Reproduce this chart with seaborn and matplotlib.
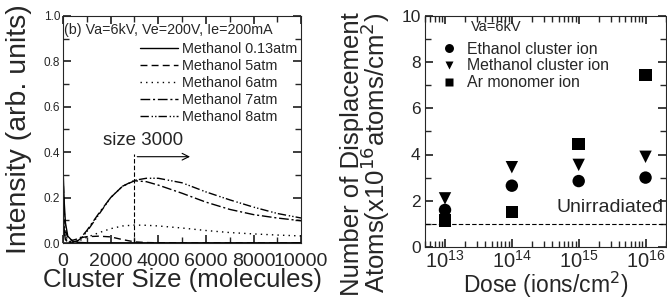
import matplotlib
matplotlib.use("Agg")
import pandas as pd
import matplotlib.pyplot as plt
from matplotlib.ticker import MultipleLocator, LogLocator, NullFormatter
import seaborn as sns

# left panel: cluster size distributions
cluster_size = [0, 50, 100, 200, 400, 600, 800, 1000, 1500, 2000, 2500, 3000,
                3500, 4000, 5000, 6000, 7000, 8000, 9000, 10000]
meth_013 = [0.33, 0.18, 0.09, 0.03, 0.008, 0.003, 0.002, 0.001, 0.001, 0.001, 0.001,
            0.001, 0.001, 0.001, 0.001, 0.001, 0.001, 0.001, 0.001, 0.001]
meth_5 = [0.30, 0.14, 0.06, 0.02, 0.012, 0.018, 0.024, 0.028, 0.030, 0.027, 0.015,
          0.005, 0.002, 0.001, 0.0, 0.0, 0.0, 0.0, 0.0, 0.0]
meth_6 = [0.22, 0.10, 0.04, 0.01, 0.004, 0.008, 0.015, 0.025, 0.045, 0.063, 0.075,
          0.079, 0.078, 0.075, 0.066, 0.055, 0.046, 0.040, 0.035, 0.031]
meth_7 = [0.15, 0.06, 0.02, 0.005, 0.003, 0.010, 0.030, 0.055, 0.13, 0.20, 0.25,
          0.274, 0.27, 0.255, 0.219, 0.18, 0.148, 0.125, 0.11, 0.098]
meth_8 = [0.12, 0.05, 0.015, 0.004, 0.003, 0.008, 0.025, 0.05, 0.125, 0.20, 0.25,
          0.276, 0.285, 0.285, 0.265, 0.225, 0.19, 0.158, 0.13, 0.11]
gas_labels = ['Methanol 0.13atm', 'Methanol 5atm', 'Methanol 6atm',
              'Methanol 7atm', 'Methanol 8atm']

# right panel: displacement atoms vs dose
dose = [1e13, 1e14, 1e15, 1e16]
ethanol = [1.6, 2.65, 2.85, 3.0]
methanol = [2.1, 3.45, 3.55, 3.9]
ar_monomer = [1.15, 1.5, 4.45, 7.45]
ion_labels = ['Ethanol cluster ion', 'Methanol cluster ion', 'Ar monomer ion']
unirradiated = 1.0

sns.set_theme(style='ticks')
plt.rcParams['font.family'] = ['Liberation Sans', 'DejaVu Sans']
plt.rcParams['xtick.direction'] = 'in'
plt.rcParams['ytick.direction'] = 'in'
plt.rcParams['xtick.top'] = True
plt.rcParams['ytick.right'] = True
plt.rcParams['axes.linewidth'] = 0.8

fig = plt.figure(figsize=(6.67, 3.0), dpi=100)
ax1 = fig.add_axes([0.0945, 0.19, 0.357, 0.757])
ax2 = fig.add_axes([0.637, 0.177, 0.361, 0.77])

# ---- left panel
curves = pd.DataFrame({
    'size': cluster_size * 5,
    'intensity': meth_013 + meth_5 + meth_6 + meth_7 + meth_8,
    'gas': sum([[g] * len(cluster_size) for g in gas_labels], []),
})
sns.lineplot(data=curves, x='size', y='intensity', style='gas', style_order=gas_labels,
             dashes=['', (5, 3), (1, 3), (7, 2, 1.5, 2), (6, 2, 1, 1.5, 1, 1.5)],
             color='black', lw=1, ax=ax1)
ax1.set_xlim(0, 10000)
ax1.set_ylim(0, 1.0)
ax1.xaxis.set_major_locator(MultipleLocator(2000))
ax1.xaxis.set_minor_locator(MultipleLocator(1000))
ax1.yaxis.set_major_locator(MultipleLocator(0.2))
ax1.yaxis.set_minor_locator(MultipleLocator(0.1))
ax1.yaxis.set_major_formatter(plt.FormatStrFormatter('%.1f'))
ax1.tick_params(axis='x', which='both', labelsize=14, pad=7, top=True)
ax1.tick_params(axis='y', which='both', labelsize=8.5, pad=2, right=True)
ax1.set_xlabel('Cluster Size (molecules)', fontsize=18.5, labelpad=-1)
ax1.set_ylabel('Intensity (arb. units)', fontsize=20.5)
ax1.yaxis.set_label_coords(-0.13, 0.5)

handles, labels = ax1.get_legend_handles_labels()
ax1.legend(handles, labels, loc='upper right', bbox_to_anchor=(1.02, 0.925),
           frameon=False, fontsize=10.4, labelspacing=0.22, handlelength=2.6,
           handletextpad=0.3, borderpad=0.1)
ax1.text(0.005, 0.94, '(b) Va=6kV, Ve=200V, Ie=200mA', transform=ax1.transAxes,
         fontsize=10.3, ha='left', va='center')
ax1.axvline(3000, ymax=0.39, color='black', ls=(0, (4, 2)), lw=0.8)
ax1.annotate('', xy=(5450, 0.38), xytext=(3000, 0.38),
             arrowprops=dict(arrowstyle='->', color='black', lw=0.8))
ax1.text(1680, 0.45, 'size 3000', fontsize=13.5, ha='left', va='center')

# ---- right panel
points = pd.DataFrame({
    'dose': dose * 3,
    'atoms': ethanol + methanol + ar_monomer,
    'ion': sum([[i] * len(dose) for i in ion_labels], []),
})
sns.scatterplot(data=points, x='dose', y='atoms', style='ion', style_order=ion_labels,
                markers={'Ethanol cluster ion': 'o', 'Methanol cluster ion': 'v',
                         'Ar monomer ion': 's'},
                color='black', s=80, edgecolor='none', ax=ax2)
ax2.axhline(unirradiated, color='black', ls=(0, (4, 2)), lw=0.8)
ax2.set_xscale('log')
ax2.set_xlim(5e12, 2e16)
ax2.set_ylim(0, 10)
ax2.xaxis.set_major_locator(LogLocator(base=10, numticks=10))
ax2.xaxis.set_minor_locator(LogLocator(base=10, subs=range(2, 10), numticks=20))
ax2.xaxis.set_minor_formatter(NullFormatter())
ax2.yaxis.set_major_locator(MultipleLocator(2))
ax2.yaxis.set_minor_locator(MultipleLocator(1))
ax2.tick_params(axis='x', which='both', labelsize=14.5, pad=2, top=True)
ax2.tick_params(axis='y', which='both', labelsize=12.5, pad=3, right=True)
ax2.set_xlabel('Dose (ions/cm$^2$)', fontsize=16.5, labelpad=-1)
ax2.set_ylabel('Number of Displacement\nAtoms(x10$^{16}$atoms/cm$^2$)', fontsize=18.5,
               linespacing=0.8, multialignment='right')
ax2.yaxis.set_label_coords(-0.135, 0.40)
ax2.text(0.99, 0.17, 'Unirradiated', transform=ax2.transAxes, fontsize=14,
         ha='right', va='center')
ax2.text(0.19, 0.95, 'Va=6kV', transform=ax2.transAxes, fontsize=10.5,
         ha='left', va='center')
handles, labels = ax2.get_legend_handles_labels()
ax2.legend(handles, labels, loc='upper left', bbox_to_anchor=(0.02, 0.93),
           frameon=False, fontsize=11.4, labelspacing=0.12, handlelength=1.2,
           handletextpad=0.55, borderpad=0.1, markerscale=0.72)

fig.savefig('out.png', dpi=100)
